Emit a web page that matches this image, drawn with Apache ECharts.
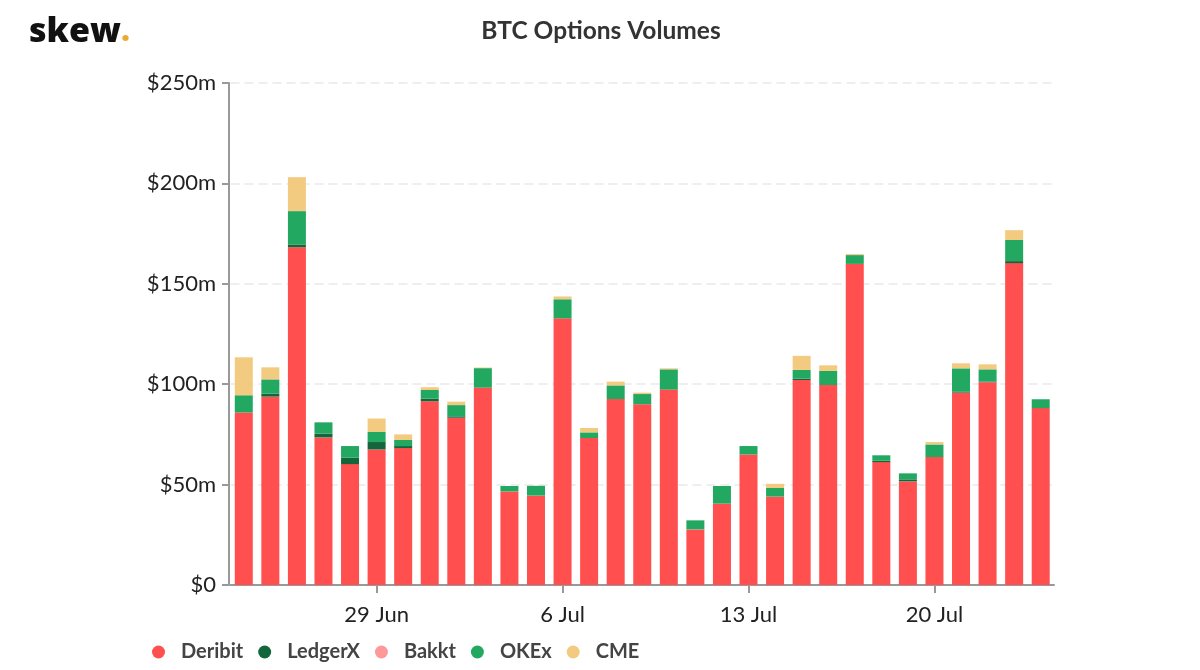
<!DOCTYPE html>
<html>
<head>
<meta charset="utf-8">
<title>BTC Options Volumes</title>
<script src="https://cdn.jsdelivr.net/npm/echarts@6/dist/echarts.min.js"></script>
<style>
  html, body { margin: 0; padding: 0; background: #fff; }
  #chart { width: 1200px; height: 670px; }
</style>
</head>
<body>
<div id="chart"></div>
<script>
var days = ['24 Jun','25 Jun','26 Jun','27 Jun','28 Jun','29 Jun','30 Jun','1 Jul','2 Jul','3 Jul','4 Jul','5 Jul','6 Jul','7 Jul','8 Jul','9 Jul','10 Jul','11 Jul','12 Jul','13 Jul','14 Jul','15 Jul','16 Jul','17 Jul','18 Jul','19 Jul','20 Jul','21 Jul','22 Jul','23 Jul','24 Jul'];
var deribit = [85.9,93.8,168.2,73.5,60.2,67.5,68.2,91.5,83.3,98.3,46.6,44.5,132.8,73.2,92.6,90,97.3,27.7,40.5,65,44,102.1,99.6,159.9,61.2,51.6,63.7,95.8,101,160.3,88.1];
var ledgerx = [0,1.5,1.4,1.9,3.2,3.7,1,1.3,0.7,0,0,0,0,0,0,0,0,0,0,0,0,0.7,0,0,0.7,1,0,0.4,0.3,1,0];
var bakkt = [0,0,0,0,0,0,0,0,0,0,0,0,0,0,0,0,0,0,0,0,0,0,0,0,0,0,0,0,0,0,0];
var okex = [8.6,7.1,16.6,5.6,5.8,5,3,4.3,5.6,9.7,2.7,4.9,9.5,2.8,6.8,5.1,10.1,4.5,8.8,4.2,4.3,4.3,7,4.4,2.7,3,6.3,11.7,6.1,10.5,4.4];
var cme = [18.9,6,16.9,0,0,6.7,2.8,1.4,1.7,0.3,0,0,1.4,2.2,1.9,0.7,0.5,0,0,0,2.1,7,2.8,0.5,0,0,1.2,2.5,2.5,4.9,0];
var yTicks = [0,50,100,150,200,250];
var tickedDays = ['29 Jun','6 Jul','13 Jul','20 Jul'];

var seriesList = [
  {name: 'Deribit', data: deribit, color: '#FF4F4F'},
  {name: 'LedgerX', data: ledgerx, color: '#13663B'},
  {name: 'Bakkt', data: bakkt, color: '#FF9999'},
  {name: 'OKEx', data: okex, color: '#23A862'},
  {name: 'CME', data: cme, color: '#F3CB80'}
];

var chart = echarts.init(document.getElementById('chart'));

function showDay(i) {
  return tickedDays.indexOf(days[i]) >= 0;
}

chart.setOption({
  animation: false,
  textStyle: {fontFamily: 'Lato'},
  title: [
    {
      text: 'BTC Options Volumes',
      left: 596,
      top: 14,
      textAlign: 'center',
      textStyle: {fontFamily: 'Lato', fontSize: 24.5, fontWeight: 700, color: '#333'}
    },
    {
      text: 'skew{dot|.}',
      left: 24,
      top: 10,
      textStyle: {
        fontFamily: 'Open Sans',
        fontSize: 34,
        fontWeight: 800,
        color: '#111',
        rich: {dot: {fontFamily: 'Open Sans', fontSize: 31, fontWeight: 800, color: '#EBA92F'}}
      }
    }
  ],
  legend: {
    left: 147,
    top: 637,
    icon: 'circle',
    itemWidth: 13,
    itemHeight: 13,
    itemGap: 15,
    textStyle: {fontFamily: 'Lato', fontSize: 20, fontWeight: 700, color: '#444', padding: [0, 0, 0, 11]},
    data: seriesList.map(function (s) { return s.name; })
  },
  grid: {left: 230.5, right: 146, top: 83, bottom: 85, containLabel: false},
  xAxis: {
    type: 'category',
    data: days,
    axisLine: {lineStyle: {color: '#999', width: 2}},
    axisTick: {show: true, alignWithLabel: true, length: 8, interval: showDay, lineStyle: {color: '#999', width: 2}},
    axisLabel: {interval: showDay, fontSize: 22, color: '#222', margin: 19},
    splitLine: {show: false}
  },
  yAxis: {
    type: 'value',
    offset: 1.5,
    min: yTicks[0],
    max: yTicks[yTicks.length - 1],
    interval: yTicks[1] - yTicks[0],
    axisLine: {show: true, lineStyle: {color: '#999', width: 2}},
    axisTick: {show: true, length: 7, lineStyle: {color: '#999', width: 2}},
    axisLabel: {fontSize: 22, color: '#222', margin: 13, formatter: function (v) { return '$' + v + (v ? 'm' : ''); }},
    splitLine: {show: true, lineStyle: {color: '#eee', width: 2, type: [9, 5]}}
  },
  series: seriesList.map(function (s) {
    return {
      name: s.name,
      type: 'bar',
      stack: 'volume',
      barWidth: 18,
      data: s.data,
      itemStyle: {color: s.color}
    };
  })
});
</script>
</body>
</html>
